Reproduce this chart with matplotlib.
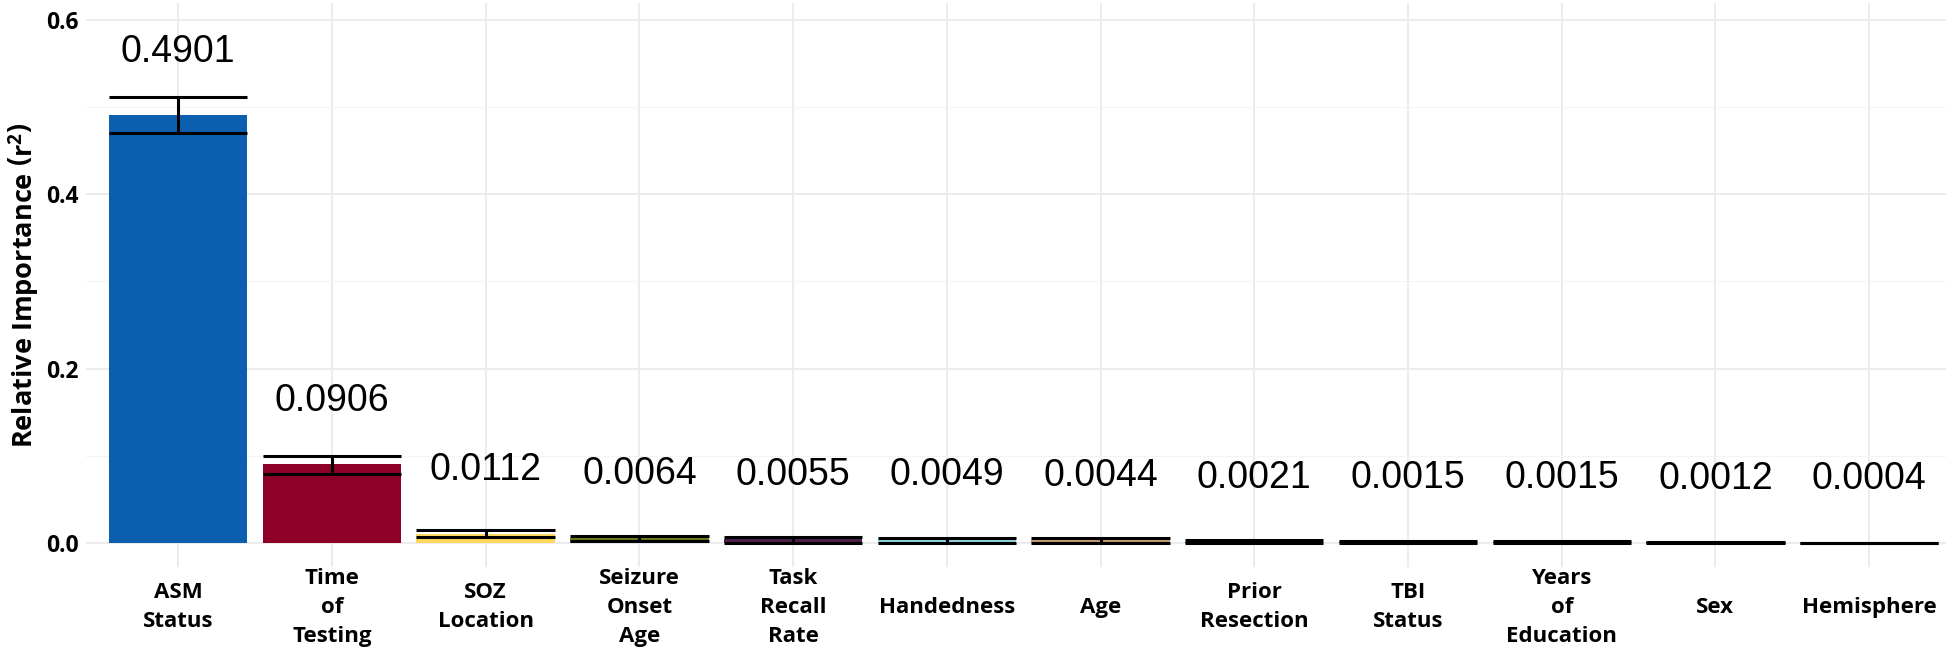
import matplotlib
matplotlib.use("Agg")
import matplotlib.pyplot as plt
import numpy as np

categories = ["ASM\nStatus", "Time\nof\nTesting", "SOZ\nLocation", "Seizure\nOnset\nAge",
              "Task\nRecall\nRate", "Handedness", "Age", "Prior\nResection", "TBI\nStatus",
              "Years\nof\nEducation", "Sex", "Hemisphere"]
values = [0.4901, 0.0906, 0.0112, 0.0064, 0.0055, 0.0049, 0.0044, 0.0021, 0.0015, 0.0015, 0.0012, 0.0004]
err_low = [0.470, 0.080, 0.0078, 0.0030, 0.0008, 0.0008, 0.0008, 0.0008, 0.0005, 0.0005, 0.0003, 0.0000]
err_high = [0.511, 0.100, 0.0150, 0.0085, 0.0070, 0.0065, 0.0062, 0.0035, 0.0025, 0.0025, 0.0022, 0.0010]
value_labels = ["0.4901", "0.0906", "0.0112", "0.0064", "0.0055", "0.0049", "0.0044",
                "0.0021", "0.0015", "0.0015", "0.0012", "0.0004"]
colors = ["#0C5FAE", "#8E0028", "#FFD95E", "#6B7E1E", "#4E1F4A", "#8FD3E0", "#C49A6C",
          "#222222", "#222222", "#222222", "#222222", "#222222"]
yticks = [0.0, 0.2, 0.4, 0.6]
ytick_labels = ["0.0", "0.2", "0.4", "0.6"]

plt.rcParams['mathtext.fontset'] = 'custom'
plt.rcParams['mathtext.bf'] = 'Open Sans:bold'
plt.rcParams['mathtext.rm'] = 'Open Sans:bold'

fig = plt.figure(figsize=(19.5, 6.65), dpi=100)
ax = fig.add_axes([86 / 1950, 1 - 567 / 665, (1946 - 86) / 1950, (567 - 3) / 665])

x = np.arange(len(categories))
ax.bar(x, values, width=0.9, color=colors, zorder=2)

lw = 2.2
for xi, lo, hi in zip(x, err_low, err_high):
    ax.hlines([lo, hi], xi - 0.45, xi + 0.45, colors="black", linewidth=lw, zorder=3)
    ax.vlines(xi, lo, hi, colors="black", linewidth=lw, zorder=3)

for xi, v, lab in zip(x, values, value_labels):
    ax.text(xi, v + 0.073, lab, ha="center", va="center", fontsize=27,
            family="Liberation Sans", color="black", zorder=4)

ax.set_xlim(-0.6, 11.5)
ax.set_ylim(-0.027, 0.6 + 16.5 / 873)
ax.set_yticks(yticks)
ax.set_yticklabels(ytick_labels, family="Open Sans", fontweight="bold", fontsize=16.5)
ax.set_yticks([0.1, 0.3, 0.5], minor=True)
ax.set_xticks(x)
ax.set_xticklabels(categories, family="Open Sans", fontweight="bold", fontsize=16,
                   va="center", linespacing=1.5)
ax.tick_params(axis="x", length=0, pad=29)
ax.tick_params(axis="y", length=0, pad=5, which="both")

ax.grid(True, which="major", color="#EBEBEB", linewidth=1.3, zorder=0)
ax.grid(True, which="minor", axis="y", color="#F4F4F4", linewidth=0.8, zorder=0)
ax.set_axisbelow(True)
for s in ax.spines.values():
    s.set_visible(False)

ax.set_ylabel(r"Relative Importance $\left(\mathbf{r}^{2}\right)$", family="Open Sans",
              fontweight="bold", fontsize=19.5, labelpad=4)

fig.savefig("out.png", dpi=100, facecolor="white")
